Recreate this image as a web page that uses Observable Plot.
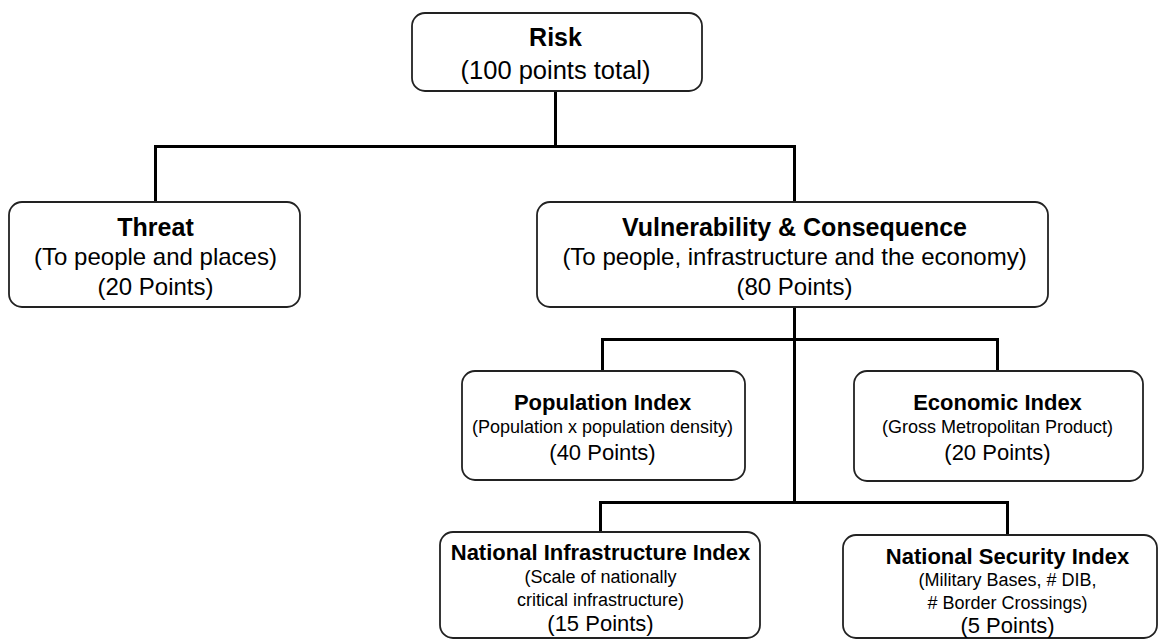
<!DOCTYPE html>
<html>
<head>
<meta charset="utf-8">
<script src="https://cdn.jsdelivr.net/npm/d3@7"></script>
<script src="https://cdn.jsdelivr.net/npm/@observablehq/plot@0.6"></script>
<style>
  html, body { margin: 0; padding: 0; background: #fff; }
  #chart svg { display: block; }
</style>
</head>
<body>
<div id="chart"></div>
<script>
// ---- Data ----
const nodeNames = [
  "Risk",
  "Threat",
  "Vulnerability & Consequence",
  "Population Index",
  "Economic Index",
  "National Infrastructure Index",
  "National Security Index"
];
const nodeParents = [
  null,
  "Risk",
  "Risk",
  "Vulnerability & Consequence",
  "Vulnerability & Consequence",
  "Vulnerability & Consequence",
  "Vulnerability & Consequence"
];
const nodeDescriptions = [
  [],
  ["(To people and places)"],
  ["(To people, infrastructure and the economy)"],
  ["(Population x population density)"],
  ["(Gross Metropolitan Product)"],
  ["(Scale of nationally", "critical infrastructure)"],
  ["(Military Bases, # DIB,", "# Border Crossings)"]
];
const nodePoints = [100, 20, 80, 40, 20, 15, 5];

// ---- Layout (diagram geometry, kept apart from the data) ----
const layout = {
  "Risk":                          {x1: 412, x2: 702,  y1: 13,  y2: 91,  cx: 555,  ty: 53.5, gap: 33,   level: 0},
  "Threat":                        {x1: 9,   x2: 300,  y1: 202, y2: 307, cx: 155,  ty: 257,  gap: 30,   level: 1},
  "Vulnerability & Consequence":   {x1: 537, x2: 1048, y1: 202, y2: 307, cx: 794,  ty: 257,  gap: 30,   level: 1},
  "Population Index":              {x1: 462, x2: 745,  y1: 371, y2: 480, cx: 602,  ty: 427,  gap: 25,   level: 2},
  "Economic Index":                {x1: 854, x2: 1143, y1: 371, y2: 481, cx: 997,  ty: 427,  gap: 25,   level: 2},
  "National Infrastructure Index": {x1: 440, x2: 760,  y1: 532, y2: 638, cx: 600,  ty: 588,  gap: 23.5, level: 2},
  "National Security Index":       {x1: 843, x2: 1157, y1: 535, y2: 638, cx: 1007, ty: 591,  gap: 23,   level: 2}
};
// bus lines: which children share a horizontal connector and at what height
const buses = [
  {parent: "Risk", children: ["Threat", "Vulnerability & Consequence"], y: 146},
  {parent: "Vulnerability & Consequence", children: ["Population Index", "Economic Index"], y: 339},
  {parent: "Vulnerability & Consequence", children: ["National Infrastructure Index", "National Security Index"], y: 502}
];
const sizes = [
  {title: 25, desc: 25, points: 25.5},
  {title: 25, desc: 24, points: 24},
  {title: 22, desc: 18, points: 22}
];

// ---- Build tables ----
const boxes = nodeNames.map((name, i) => ({name, ...layout[name]}));

const textRows = [];
nodeNames.forEach((name, i) => {
  const L = layout[name];
  const s = sizes[L.level];
  const pts = i === 0 ? `(${nodePoints[i]} points total)` : `(${nodePoints[i]} Points)`;
  const lines = [
    {text: name, size: s.title, bold: true},
    ...nodeDescriptions[i].map(t => ({text: t, size: s.desc, bold: false})),
    {text: pts, size: s.points, bold: false}
  ];
  const n = lines.length;
  lines.forEach((ln, k) => {
    textRows.push({...ln, x: L.cx, y: L.ty + (k - (n - 1) / 2) * L.gap});
  });
});

const segments = [];
const parentsSeen = new Set();
for (const b of buses) {
  const P = layout[b.parent];
  if (!parentsSeen.has(b.parent)) {
    parentsSeen.add(b.parent);
    const maxY = d3.max(buses.filter(q => q.parent === b.parent), q => q.y);
    segments.push({x1: P.cx, y1: P.y2, x2: P.cx, y2: maxY});
  }
  const xs = [P.cx, ...b.children.map(c => layout[c].cx)];
  segments.push({x1: d3.min(xs), y1: b.y, x2: d3.max(xs), y2: b.y});
  for (const c of b.children) {
    const C = layout[c];
    segments.push({x1: C.cx, y1: b.y, x2: C.cx, y2: C.y1});
  }
}

const font = "'Liberation Sans', Arial, Helvetica, sans-serif";

const chart = Plot.plot({
  width: 1160,
  height: 640,
  margin: 0,
  x: {domain: [0, 1160], range: [0, 1160], axis: null},
  y: {domain: [0, 640], range: [0, 640], axis: null},
  style: {background: "#fff", fontFamily: font},
  marks: [
    Plot.link(segments, {
      x1: "x1", y1: "y1", x2: "x2", y2: "y2",
      stroke: "#000", strokeWidth: 3, strokeLinecap: "square"
    }),
    Plot.rect(boxes, {
      x1: "x1", x2: "x2", y1: "y1", y2: "y2",
      rx: 13, fill: "#fff", stroke: "#222", strokeWidth: 1.8
    }),
    Plot.text(textRows.filter(d => d.bold), {
      x: "x", y: "y", text: "text", fontSize: "size",
      fontWeight: "bold", fill: "#000", textAnchor: "middle", lineAnchor: "middle",
      fontFamily: font
    }),
    Plot.text(textRows.filter(d => !d.bold), {
      x: "x", y: "y", text: "text", fontSize: "size",
      fill: "#000", textAnchor: "middle", lineAnchor: "middle",
      fontFamily: font
    })
  ]
});
document.getElementById("chart").appendChild(chart);
</script>
</body>
</html>
